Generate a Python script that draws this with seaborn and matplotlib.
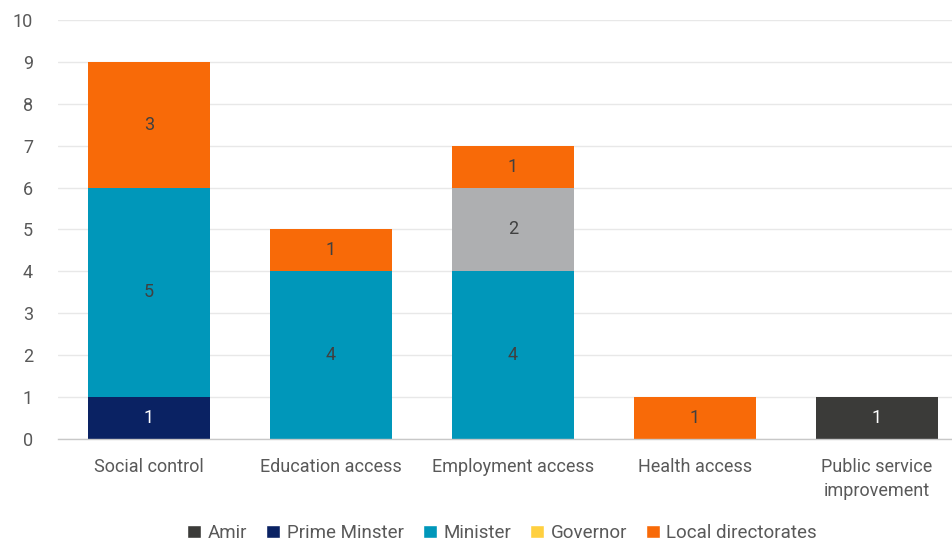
import matplotlib
matplotlib.use("Agg")
import matplotlib.pyplot as plt
import seaborn as sns
import numpy as np
import pandas as pd
from matplotlib.patches import Patch

categories = ["Social control", "Education access", "Employment access",
              "Health access", "Public service\nimprovement"]
amir = [0, 0, 0, 0, 1]
prime_minister = [1, 0, 0, 0, 0]
minister = [5, 4, 4, 0, 0]
governor = [0, 0, 0, 0, 0]
other = [0, 0, 2, 0, 0]
local_directorates = [3, 1, 1, 1, 0]

series = [
    ("Amir", amir, "#3B3B39", "white", True),
    ("Prime Minster", prime_minister, "#0A2263", "white", True),
    ("Minister", minister, "#0097BA", "#404040", True),
    ("Governor", governor, "#FFD040", "#404040", True),
    ("Other", other, "#AEAFB1", "#404040", False),
    ("Local directorates", local_directorates, "#F86A08", "#404040", True),
]

sns.set_theme(style="white")
plt.rcParams["font.family"] = ["Roboto", "DejaVu Sans"]

fig = plt.figure(figsize=(9.53, 5.42), dpi=100)
ax = fig.add_axes([58 / 953, 1 - 439 / 542, (968 - 58) / 953, (439 - 20) / 542])

bottom = np.zeros(len(categories))
for name, vals, color, tcol, _ in series:
    vals = np.array(vals, dtype=float)
    df = pd.DataFrame({"cat": categories, "val": vals})
    sns.barplot(data=df, x="cat", y="val", color=color, bottom=bottom,
                width=0.665, ax=ax, saturation=1, linewidth=0, errorbar=None)
    for i, v in enumerate(vals):
        if v > 0:
            ax.text(i, bottom[i] + v / 2, f"{int(v)}", ha="center", va="center",
                    fontsize=13, color=tcol)
    bottom += vals

ax.set_ylim(0, 10)
ax.set_xlim(-0.5, len(categories) - 0.5)
ax.set_yticks(range(0, 11))
ax.yaxis.grid(True, color="#E8E8E8", linewidth=1)
ax.set_axisbelow(True)
for s in ["top", "right", "left"]:
    ax.spines[s].set_visible(False)
ax.spines["bottom"].set_color("#C8C8C8")
ax.spines["bottom"].set_linewidth(1)
ax.set_xlabel("")
ax.set_ylabel("")
ax.tick_params(axis="y", length=0, labelsize=13, labelcolor="#595959", pad=18)
ax.tick_params(axis="x", length=0, labelsize=13, labelcolor="#595959", pad=14)
for lab in ax.get_xticklabels():
    lab.set_linespacing(1.4)

handles = [Patch(facecolor=c, label=n) for n, _, c, _, show in series if show]
fig.legend(handles=handles, loc="center", bbox_to_anchor=(0.527, 1 - 533 / 542),
           ncol=5, frameon=False, fontsize=13.5, labelcolor="#595959",
           handlelength=0.75, handleheight=0.75, handletextpad=0.35, columnspacing=1.0)

fig.savefig("out.png", dpi=100)
